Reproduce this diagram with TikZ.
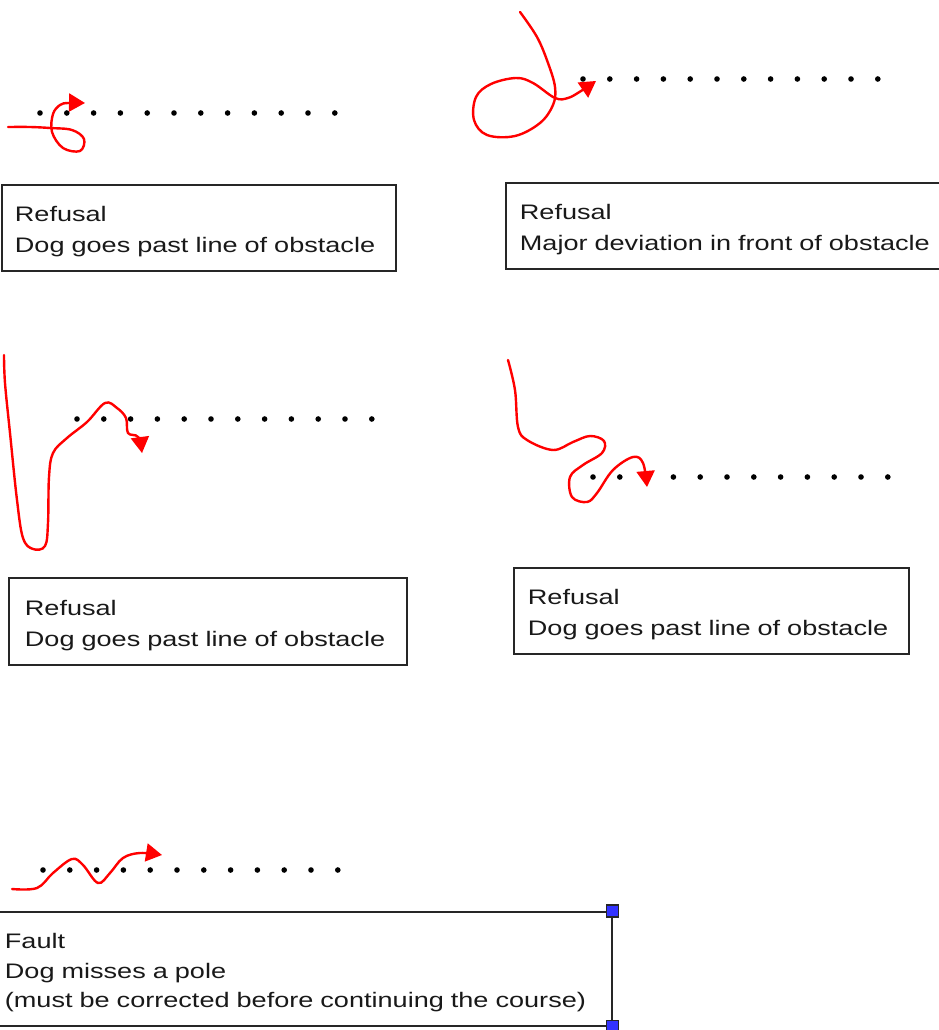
\documentclass[tikz,border=0pt]{standalone}
\usepackage{fontspec}
\newfontfamily\cardfont[FakeStretch=1.29]{Liberation Sans}
\usepackage{tikz}
\usetikzlibrary{arrows, arrows.meta, positioning, calc}

\begin{document}
\begin{tikzpicture}[x=1pt, y=-1pt,
  pole/.style={fill=black},
  trail/.style={red, line width=2.4pt, line cap=round, -{Triangle[length=16pt,width=18pt]}},
  card/.style={draw=black!85, line width=1.8pt, anchor=north west, align=left, inner ysep=0pt,
    font=\cardfont\fontsize{21pt}{31pt}\selectfont, text=black!90,
    execute at begin node={\rule{0pt}{23pt}}},
  handle/.style={draw=black!85, fill=blue!80, line width=1.2pt, minimum size=12pt, inner sep=0pt}]
\useasboundingbox (0,0) rectangle (939,1030);

% Rows of poles
\foreach \x/\y in {40/113, 583/79, 77/419, 593/477, 43/870}
  \foreach \i in {0,...,11}
    \fill[pole] ({\x+26.8*\i},\y) circle (2.8);

% Dog paths
\draw[trail] plot[smooth, tension=0.6] coordinates {(8,127) (30,127) (50,128) (72,130) (84,139) (80,151) (63,148) (52,132) (53,114) (60,105) (68,103) (85,103)};
\draw[trail] plot[smooth, tension=0.6] coordinates {(520,12) (537,37) (548,63) (555,87) (553,105) (540,123) (515,136) (487,135) (474,120) (476,97) (491,84) (516,78) (533,83) (555,98) (568,98) (581,91) (596,81)};
\draw[trail] plot[smooth, tension=0.6] coordinates {(4,355) (5,383) (10,433) (17,500) (23,538) (33,549) (45,546) (48,523) (49,477) (53,453) (67,438) (87,422) (105,403) (117,408) (126,418) (128,433) (138,437) (142,453)};
\draw[trail] plot[smooth, tension=0.6] coordinates {(508,360) (515,390) (518,427) (527,440) (553,450) (573,442) (590,436) (604,441) (602,453) (583,465) (570,477) (572,497) (587,502) (597,493) (613,470) (633,457) (643,463) (647,487)};
\draw[trail] plot[smooth, tension=0.6] coordinates {(12,889) (37,888) (53,873) (72,859) (83,865) (98,883) (110,873) (123,858) (140,853) (162,855)};

% Captions
\node[card, inner xsep=13pt, text width=368pt, minimum height=86pt] (refusal1) at (1,184) {Refusal\\Dog goes past line of obstacle};
\node[card, inner xsep=14pt, text width=432pt, minimum height=86pt] (refusal2) at (505,182) {Refusal\\Major deviation in front of obstacle};
\node[card, inner xsep=16pt, text width=366pt, minimum height=87pt] (refusal3) at (8,577) {Refusal\\Dog goes past line of obstacle};
\node[card, inner xsep=14pt, text width=367pt, minimum height=86pt] (refusal4) at (513,567) {Refusal\\Dog goes past line of obstacle};
\node[card, inner xsep=9pt, text width=598pt, minimum height=114pt,
  font=\cardfont\fontsize{21pt}{29.5pt}\selectfont] (fault) at (-5,911) {Fault\\Dog misses a pole\\(must be corrected before continuing the course)};

% Selection handles
\node[handle] (grip1) at (fault.north east) {};
\node[handle] (grip2) at (fault.south east) {};
\end{tikzpicture}
\end{document}
